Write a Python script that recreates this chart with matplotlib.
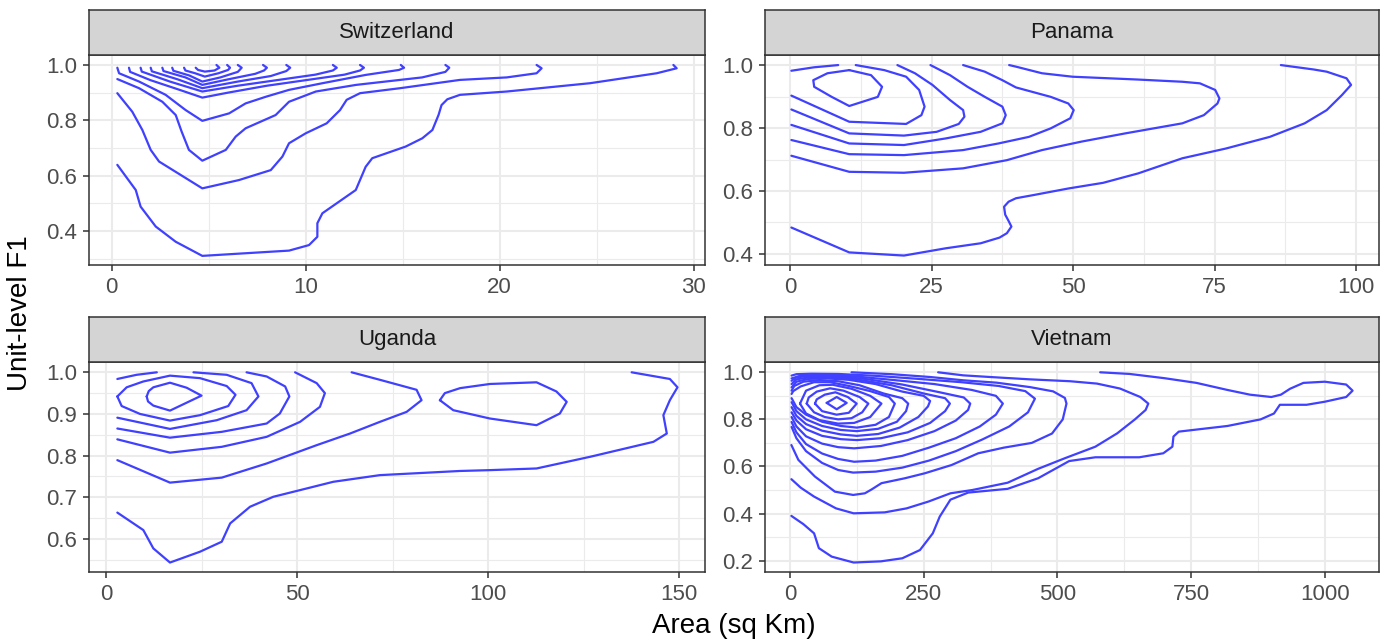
import matplotlib
matplotlib.use('Agg')
import matplotlib.pyplot as plt
from matplotlib.ticker import MultipleLocator, FormatStrFormatter

plt.rcParams['font.family'] = ['Liberation Sans', 'DejaVu Sans']

# ---- contour lines (x = area, y = unit-level F1) ----

# Switzerland
ch_k1 = [(0.29, 0.639), (1.24, 0.548), (1.49, 0.488), (2.27, 0.416), (3.3, 0.361), (4.67, 0.31),
         (9.14, 0.329), (10.17, 0.349), (10.6, 0.379), (10.6, 0.428), (10.86, 0.464), (12.58, 0.548),
         (13.09, 0.632), (13.43, 0.663), (15.15, 0.705), (16.01, 0.735), (16.53, 0.765), (16.85, 0.82),
         (17.0, 0.855), (17.3, 0.876), (17.95, 0.892), (20.36, 0.904), (24.65, 0.934), (28.09, 0.97),
         (29.12, 0.988), (28.95, 1.0)]
ch_k2 = [(0.29, 0.898), (1.06, 0.831), (1.58, 0.765), (2.01, 0.693), (2.44, 0.651), (4.67, 0.554),
         (6.56, 0.584), (8.2, 0.62), (8.8, 0.669), (9.14, 0.717), (10.0, 0.753), (11.08, 0.789),
         (11.77, 0.837), (12.11, 0.874), (12.8, 0.898), (14.86, 0.916), (17.95, 0.946), (20.36, 0.955),
         (21.9, 0.97), (22.16, 0.988), (21.9, 1.0)]
ch_k3 = [(0.29, 0.949), (1.41, 0.916), (2.61, 0.867), (3.3, 0.819), (3.6, 0.76), (3.98, 0.693),
         (4.67, 0.654), (5.88, 0.693), (6.39, 0.741), (6.9, 0.771), (8.45, 0.819), (9.14, 0.867),
         (10.52, 0.904), (12.6, 0.928), (16.0, 0.955), (17.2, 0.975), (17.4, 0.99), (17.2, 1.0)]
ch_k4 = [(0.29, 0.99), (0.38, 0.97), (1.41, 0.94), (2.78, 0.892), (3.81, 0.837), (4.67, 0.798),
         (6.05, 0.825), (6.9, 0.861), (7.94, 0.885), (9.14, 0.91), (10.86, 0.934), (13.09, 0.964),
         (14.81, 0.982), (15.07, 0.99), (14.9, 1.0)]
ch_k5 = [(0.89, 0.99), (0.95, 0.975), (2.0, 0.945), (3.5, 0.91), (4.67, 0.882), (6.0, 0.9),
         (8.0, 0.925), (10.0, 0.945), (12.0, 0.965), (12.8, 0.98), (13.0, 0.99), (12.8, 1.0)]
ch_k6 = [(1.49, 0.99), (1.55, 0.976), (3.0, 0.94), (4.67, 0.904), (6.5, 0.925), (8.5, 0.945),
         (10.5, 0.965), (11.4, 0.98), (11.6, 0.99), (11.4, 1.0)]
ch_k7 = [(2.01, 0.99), (2.07, 0.977), (3.4, 0.948), (4.67, 0.916), (6.5, 0.94), (8.2, 0.96),
         (9.0, 0.978), (9.2, 0.99), (9.0, 1.0)]
ch_k8 = [(2.61, 0.99), (2.67, 0.978), (3.8, 0.955), (4.67, 0.928), (6.0, 0.948), (7.4, 0.968),
         (7.85, 0.98), (8.0, 0.99), (7.8, 1.0)]
ch_k9 = [(3.12, 0.99), (3.18, 0.979), (4.0, 0.962), (4.67, 0.94), (5.6, 0.955), (6.5, 0.975),
         (6.7, 0.99), (6.5, 1.0)]
ch_k10 = [(3.73, 0.99), (3.8, 0.98), (4.3, 0.97), (4.8, 0.958), (5.5, 0.97), (6.0, 0.982),
          (6.1, 0.99), (5.95, 1.0)]
ch_k11 = [(4.33, 0.99), (4.45, 0.982), (4.8, 0.976), (5.3, 0.98), (5.55, 0.99), (5.4, 1.0)]

# Panama
pa_p1 = [(0.23, 0.484), (10.45, 0.405), (20.12, 0.395), (27.48, 0.418), (33.67, 0.434), (37.0, 0.452),
         (38.3, 0.466), (39.1, 0.487), (38.6, 0.505), (38.0, 0.525), (37.8, 0.55), (38.6, 0.566),
         (39.9, 0.577), (42.96, 0.587), (49.15, 0.608), (55.3, 0.626), (61.5, 0.656), (69.3, 0.704),
         (77.0, 0.735), (84.75, 0.772), (90.9, 0.815), (94.8, 0.857), (97.5, 0.905), (99.1, 0.937),
         (98.3, 0.958), (94.8, 0.979), (92.5, 0.986), (86.7, 1.0)]
pa_p2 = [(0.23, 0.712), (10.45, 0.661), (20.12, 0.658), (30.57, 0.672), (38.3, 0.698), (44.5, 0.73),
         (51.5, 0.757), (59.2, 0.783), (69.3, 0.815), (73.1, 0.841), (75.5, 0.878), (75.85, 0.894),
         (75.1, 0.921), (72.4, 0.942), (69.3, 0.947), (61.5, 0.954), (49.9, 0.963), (44.5, 0.974),
         (39.9, 0.995), (38.7, 1.0)]
pa_p3 = [(30.57, 1.0), (34.4, 0.979), (37.5, 0.952), (39.9, 0.929), (46.05, 0.899), (49.15, 0.878),
         (50.1, 0.857), (49.5, 0.831), (46.05, 0.799), (42.2, 0.772), (36.8, 0.751), (30.57, 0.73),
         (20.12, 0.714), (10.45, 0.717), (0.23, 0.762)]
pa_p4 = [(24.8, 1.0), (28.25, 0.968), (31.35, 0.931), (34.4, 0.899), (37.5, 0.868), (38.1, 0.841),
         (37.5, 0.815), (33.67, 0.788), (27.5, 0.767), (20.12, 0.746), (10.45, 0.751), (0.23, 0.81)]
pa_p5 = [(18.96, 1.0), (22.06, 0.974), (25.15, 0.937), (28.25, 0.889), (30.57, 0.857), (30.8, 0.836),
         (29.8, 0.813), (25.9, 0.788), (20.12, 0.776), (10.45, 0.783), (0.23, 0.859)]
pa_p6 = [(11.6, 1.0), (16.64, 0.984), (20.5, 0.963), (22.8, 0.921), (23.76, 0.868), (23.2, 0.841),
         (20.5, 0.813), (10.45, 0.82), (0.23, 0.903)]
pa_p7 = [(0.23, 0.982), (4.26, 0.993), (8.5, 1.0)]
pa_p8 = [(10.45, 0.984), (14.3, 0.968), (16.25, 0.931), (15.5, 0.899), (10.45, 0.87), (7.35, 0.899),
         (4.26, 0.931), (4.1, 0.952), (6.6, 0.974), (10.45, 0.984)]

# Uganda
ug_u1 = [(2.97, 0.663), (9.77, 0.621), (12.39, 0.577), (16.75, 0.543), (24.6, 0.569), (30.3, 0.593),
         (32.5, 0.637), (37.7, 0.677), (43.8, 0.701), (50.8, 0.717), (59.5, 0.737), (71.7, 0.753),
         (92.7, 0.763), (100.5, 0.765), (112.7, 0.769), (126.7, 0.797), (143.3, 0.833), (146.8, 0.853),
         (145.9, 0.897), (147.6, 0.933), (149.6, 0.964), (147.6, 0.984), (137.6, 1.0)]
ug_u2 = [(2.97, 0.789), (16.75, 0.735), (30.3, 0.747), (42.06, 0.781), (55.15, 0.825), (63.9, 0.853),
         (71.7, 0.881), (78.7, 0.905), (82.6, 0.933), (81.3, 0.958), (71.7, 0.982), (64.3, 1.0)]
ug_u3 = [(87.4, 0.933), (88.7, 0.95), (92.7, 0.962), (100.5, 0.972), (112.7, 0.976), (117.9, 0.954),
         (120.6, 0.929), (118.8, 0.901), (112.7, 0.873), (100.5, 0.889), (90.9, 0.909), (87.4, 0.933)]
ug_u4 = [(2.97, 0.839), (16.75, 0.807), (30.3, 0.821), (42.06, 0.845), (50.8, 0.881), (56.0, 0.917),
         (57.3, 0.95), (55.15, 0.974), (49.5, 1.0)]
ug_u5 = [(2.97, 0.865), (16.75, 0.843), (30.3, 0.857), (42.06, 0.877), (45.5, 0.901), (48.0, 0.942),
         (46.9, 0.966), (42.06, 0.99), (36.8, 1.0)]
ug_u6 = [(2.97, 0.891), (16.75, 0.864), (29.0, 0.885), (36.8, 0.909), (39.9, 0.942), (38.1, 0.974),
         (31.6, 0.994), (22.9, 1.0)]
ug_u7 = [(2.97, 0.942), (5.41, 0.964), (9.77, 0.978), (16.75, 0.992), (24.6, 0.986), (31.6, 0.967),
         (33.9, 0.946), (32.0, 0.919), (24.6, 0.897), (16.75, 0.884), (8.9, 0.9), (4.1, 0.919),
         (2.97, 0.942)]
ug_u8 = [(10.65, 0.942), (11.2, 0.955), (12.39, 0.964), (16.75, 0.975), (21.1, 0.963), (25.0, 0.944),
         (21.1, 0.927), (16.75, 0.908), (12.39, 0.92), (11.0, 0.93), (10.65, 0.942)]
ug_u9 = [(2.97, 0.984), (8.0, 0.994), (13.3, 1.0)]

# Vietnam
vn_v1 = [(2.6, 0.39), (25, 0.355), (45, 0.316), (54, 0.253), (78, 0.217), (119, 0.192), (170, 0.197),
         (210, 0.21), (243, 0.245), (267, 0.316), (280, 0.387), (300, 0.459), (333, 0.489), (407, 0.505),
         (464, 0.55), (522, 0.623), (571, 0.639), (653, 0.639), (698, 0.656), (715, 0.684), (717, 0.727),
         (727, 0.748), (818, 0.772), (880, 0.8), (905, 0.825), (916, 0.862), (935, 0.862), (966, 0.862),
         (1000, 0.875), (1040, 0.895), (1052, 0.922), (1040, 0.948), (1000, 0.96), (960, 0.955),
         (935, 0.93), (918, 0.905), (900, 0.895), (860, 0.905), (818, 0.925), (760, 0.955),
         (700, 0.975), (635, 0.993), (580, 1.0)]
vn_v2 = [(2.6, 0.546), (20, 0.51), (45, 0.472), (86, 0.422), (119, 0.401), (177, 0.405), (218, 0.422),
         (259, 0.451), (300, 0.486), (341, 0.5), (407, 0.531), (464, 0.59), (514, 0.635), (571, 0.684),
         (612, 0.741), (645, 0.8), (665, 0.84), (670, 0.867), (655, 0.895), (617, 0.931), (574, 0.952),
         (524, 0.962), (449, 0.97), (374, 0.98), (324, 0.987), (277, 1.0)]
vn_v3 = [(2.6, 0.691), (15.6, 0.628), (46.7, 0.557), (84, 0.493), (118, 0.479), (140, 0.486),
         (153, 0.503), (171, 0.529), (215, 0.55), (252, 0.571), (302, 0.606), (352, 0.656), (400, 0.68),
         (452, 0.7), (490, 0.74), (510, 0.8), (517, 0.867), (514, 0.891), (492, 0.919), (449, 0.937),
         (386, 0.956), (324, 0.966), (262, 0.98), (190, 0.992), (115, 1.0)]
vn_v4 = [(3, 0.768), (12, 0.72), (30, 0.665), (60, 0.615), (90, 0.585), (118, 0.574), (160, 0.578),
         (210, 0.595), (260, 0.625), (310, 0.665), (360, 0.715), (410, 0.77), (445, 0.83), (458, 0.888),
         (440, 0.92), (390, 0.942), (320, 0.958), (240, 0.972), (160, 0.985), (90, 0.993), (40, 0.994),
         (12, 0.992), (3, 0.986)]
vn_v5 = [(3, 0.789), (12, 0.745), (30, 0.695), (60, 0.655), (90, 0.632), (120, 0.62), (160, 0.625),
         (210, 0.645), (260, 0.68), (310, 0.72), (355, 0.77), (385, 0.82), (398, 0.867), (385, 0.9),
         (340, 0.925), (270, 0.95), (190, 0.968), (120, 0.983), (60, 0.989), (20, 0.986), (3, 0.974)]
vn_v6 = [(3, 0.81), (12, 0.77), (30, 0.728), (60, 0.697), (90, 0.682), (120, 0.677), (170, 0.687),
         (220, 0.712), (270, 0.75), (310, 0.795), (333, 0.84), (337, 0.867), (325, 0.893), (280, 0.915),
         (210, 0.948), (140, 0.972), (80, 0.984), (35, 0.985), (12, 0.978), (3, 0.964)]
vn_v7 = [(3, 0.83), (12, 0.795), (30, 0.758), (60, 0.73), (95, 0.716), (125, 0.712), (170, 0.72),
         (220, 0.745), (262, 0.785), (290, 0.835), (299, 0.867), (290, 0.89), (250, 0.91), (190, 0.945),
         (130, 0.968), (80, 0.979), (40, 0.98), (12, 0.97), (3, 0.95)]
vn_v8 = [(3, 0.852), (12, 0.815), (30, 0.78), (60, 0.752), (95, 0.736), (125, 0.73), (165, 0.738),
         (205, 0.765), (240, 0.81), (258, 0.855), (262, 0.878), (250, 0.9), (210, 0.918), (160, 0.95),
         (110, 0.968), (70, 0.974), (35, 0.972), (12, 0.96), (3, 0.936)]
vn_v9 = [(3, 0.873), (12, 0.835), (30, 0.8), (60, 0.772), (95, 0.755), (125, 0.75), (165, 0.76),
         (200, 0.79), (217, 0.835), (221, 0.867), (210, 0.89), (175, 0.91), (130, 0.945), (90, 0.962),
         (55, 0.967), (25, 0.96), (8, 0.942), (3, 0.922)]
vn_v10 = [(3, 0.89), (12, 0.852), (30, 0.82), (60, 0.79), (95, 0.772), (125, 0.765), (160, 0.777),
          (185, 0.81), (196, 0.867), (185, 0.895), (150, 0.92), (110, 0.942), (75, 0.958), (45, 0.958),
          (20, 0.94), (6, 0.92), (3, 0.908)]
vn_v11 = [(18.7, 0.867), (30, 0.825), (55, 0.797), (90, 0.782), (120, 0.785), (150, 0.81), (171, 0.867),
          (150, 0.9), (115, 0.93), (80, 0.947), (55, 0.945), (30, 0.922), (18.7, 0.867)]
vn_v12 = [(31.2, 0.867), (45, 0.83), (65, 0.81), (90, 0.8), (115, 0.805), (135, 0.83), (146.5, 0.867),
          (130, 0.895), (100, 0.922), (75, 0.932), (50, 0.918), (35, 0.893), (31.2, 0.867)]
vn_v13 = [(46.7, 0.867), (60, 0.835), (87, 0.82), (110, 0.828), (124.7, 0.867), (108, 0.895),
          (85, 0.915), (65, 0.905), (50, 0.885), (46.7, 0.867)]
vn_v14 = [(68.6, 0.87), (87.3, 0.843), (106, 0.87), (87.3, 0.895), (68.6, 0.87)]

countries = ['Switzerland', 'Panama', 'Uganda', 'Vietnam']
contours = {
    'Switzerland': [ch_k1, ch_k2, ch_k3, ch_k4, ch_k5, ch_k6, ch_k7, ch_k8, ch_k9, ch_k10, ch_k11],
    'Panama': [pa_p1, pa_p2, pa_p3, pa_p4, pa_p5, pa_p6, pa_p7, pa_p8],
    'Uganda': [ug_u1, ug_u2, ug_u3, ug_u4, ug_u5, ug_u6, ug_u7, ug_u8, ug_u9],
    'Vietnam': [vn_v1, vn_v2, vn_v3, vn_v4, vn_v5, vn_v6, vn_v7, vn_v8, vn_v9, vn_v10, vn_v11,
                vn_v12, vn_v13, vn_v14],
}

# axis settings per panel (limits, tick steps)
xlims = {'Switzerland': (-1.17, 30.58), 'Panama': (-4.5, 104.0),
         'Uganda': (-4.45, 156.8), 'Vietnam': (-47.5, 1101)}
ylims = {'Switzerland': (0.277, 1.036), 'Panama': (0.365, 1.032),
         'Uganda': (0.521, 1.0255), 'Vietnam': (0.153, 1.045)}
xsteps = {'Switzerland': 10, 'Panama': 25, 'Uganda': 50, 'Vietnam': 250}
ysteps = {'Switzerland': 0.2, 'Panama': 0.2, 'Uganda': 0.1, 'Vietnam': 0.2}

# ---- layout ----
W, H = 1389, 642
fig = plt.figure(figsize=(W / 100, H / 100), dpi=100)

cols = [(89, 705), (764.6, 1378.8)]
rows = [(55, 265, 10), (361.7, 571.7, 316.7)]

LINE = '#4040FF'
BORDER = '#333333'
GRID = '#EBEBEB'

for i, name in enumerate(countries):
    c0, c1 = cols[i % 2]
    top, bottom, strip_top = rows[i // 2]
    ax = fig.add_axes([c0 / W, 1 - bottom / H, (c1 - c0) / W, (bottom - top) / H])
    st = fig.add_axes([c0 / W, 1 - top / H, (c1 - c0) / W, (top - strip_top) / H])

    for line in contours[name]:
        xs = [p[0] for p in line]
        ys = [p[1] for p in line]
        ax.plot(xs, ys, color=LINE, lw=1.6, solid_joinstyle='round', solid_capstyle='round')

    ax.set_xlim(xlims[name])
    ax.set_ylim(ylims[name])
    ax.xaxis.set_major_locator(MultipleLocator(xsteps[name]))
    ax.xaxis.set_minor_locator(MultipleLocator(xsteps[name] / 2))
    ax.yaxis.set_major_locator(MultipleLocator(ysteps[name]))
    ax.yaxis.set_minor_locator(MultipleLocator(ysteps[name] / 2))
    ax.yaxis.set_major_formatter(FormatStrFormatter('%.1f'))
    ax.grid(which='major', color=GRID, lw=1.5)
    ax.grid(which='minor', color=GRID, lw=0.8)
    ax.set_axisbelow(True)
    ax.tick_params(which='major', length=4.5, width=1.1, color=BORDER,
                   labelsize=16, labelcolor='#4D4D4D', pad=4)
    ax.tick_params(which='minor', length=0)
    for sp in ax.spines.values():
        sp.set_color(BORDER)
        sp.set_linewidth(1.1)

    st.set_facecolor('#D4D4D4')
    st.set_xticks([])
    st.set_yticks([])
    for sp in st.spines.values():
        sp.set_color(BORDER)
        sp.set_linewidth(1.1)
    st.text(0.5, 0.5, name, ha='center', va='center', fontsize=16, color='#1A1A1A',
            transform=st.transAxes)

fig.text(734 / W, 1 - 626 / H, 'Area (sq Km)', ha='center', va='center', fontsize=20)
fig.text(20 / W, 1 - 313.5 / H, 'Unit-level F1', ha='center', va='center', fontsize=20,
         rotation=90)

fig.savefig('out.png', dpi=100)
